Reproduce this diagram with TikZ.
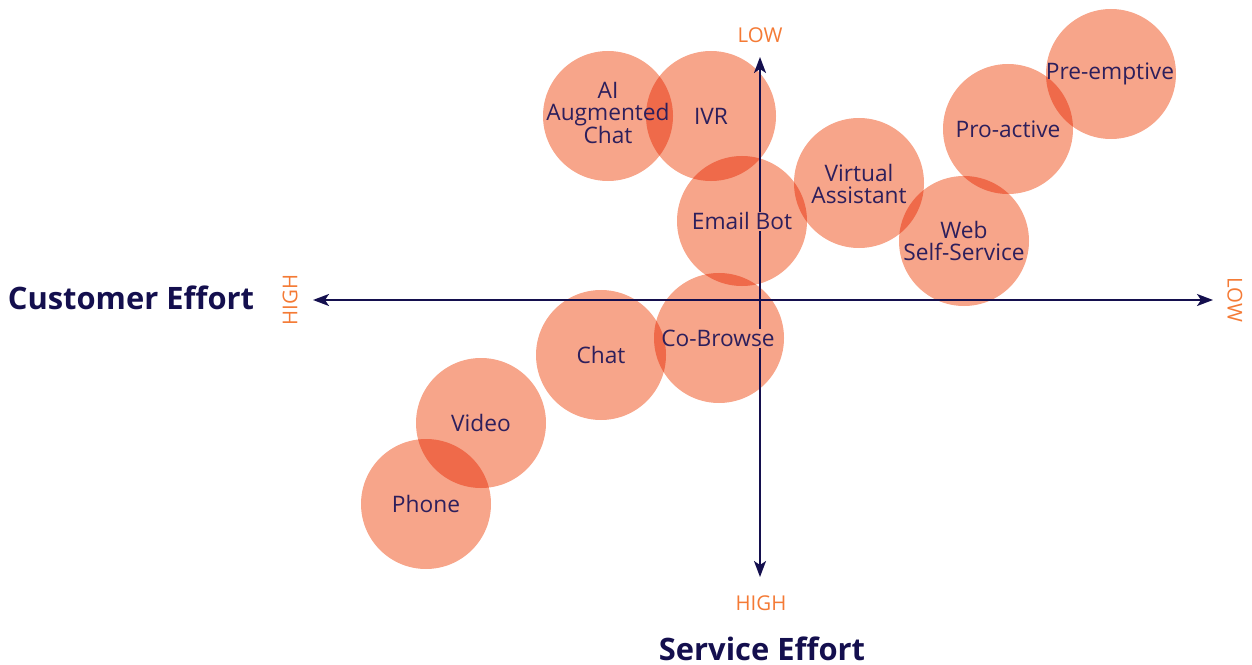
\documentclass[tikz,border=0pt]{standalone}
\usepackage{fontspec}
\setmainfont{Open Sans}
\usetikzlibrary{arrows.meta}
\definecolor{circ}{HTML}{F7A58A}
\definecolor{navy}{HTML}{140F4E}
\definecolor{lbl}{HTML}{2D1F5C}
\definecolor{org}{HTML}{F47A35}
\begin{document}
\begin{tikzpicture}[x=1bp,y=-1bp,
  bub/.style={circle, fill=circ, minimum size=130bp, inner sep=0pt},
  bubtext/.style={text=lbl, align=center, font=\fontsize{22.8}{22}\selectfont},
  axis/.style={draw=navy, line width=2bp, {Stealth[length=16bp,width=12bp,inset=4bp]}-{Stealth[length=16bp,width=12bp,inset=4bp]}},
  endlbl/.style={text=org, font=\fontsize{20.5}{20.5}\selectfont, inner sep=0pt},
  title/.style={text=navy, font=\fontsize{31}{31}\selectfont\bfseries, inner sep=0pt}]
\useasboundingbox (0,0) rectangle (1252,665);
\begin{scope}[blend mode=multiply]
\node[bub] (ai)  at (608,116) {};
\node[bub] (ivr) at (711,116) {};
\node[bub] (eb)  at (742,221) {};
\node[bub] (va)  at (859,183) {};
\node[bub] (pa)  at (1008,129) {};
\node[bub] (pe)  at (1111,74) {};
\node[bub] (web) at (964,241) {};
\node[bub] (chat) at (601,355) {};
\node[bub] (cb)  at (719,338) {};
\node[bub] (vid) at (481,423) {};
\node[bub] (ph)  at (426,504) {};
\end{scope}
% axes
\coordinate (xl) at (313,300);
\coordinate (xr) at (1213,300);
\coordinate (yt) at (760,57);
\coordinate (yb) at (760,577);
\draw[axis] (xl) -- (xr);
\draw[axis] (yt) -- (yb);
% gaps of the vertical axis behind two labels
\fill[circ] ([xshift=-2bp]yt |- 0,212) rectangle ([xshift=2bp]yt |- 0,231);
\fill[circ] ([xshift=-2bp]yt |- 0,329) rectangle ([xshift=2bp]yt |- 0,348);
% labels
\node[bubtext] (tai)  at (608,113) {AI\\Augmented\\Chat};
\node[bubtext] (tivr) at (711,116) {IVR};
\node[bubtext] (teb)  at (742,221) {Email Bot};
\node[bubtext] (tva)  at (859,184) {Virtual\\Assistant};
\node[bubtext] (tpa)  at (1008,129) {Pro-active};
\node[bubtext] (tpe)  at (1110,74) {Pre-emptive};
\node[bubtext] (tweb) at (964,241) {Web\\Self-Service};
\node[bubtext] (tchat) at (601,355) {Chat};
\node[bubtext] (tcb)  at (718,338) {Co-Browse};
\node[bubtext] (tvid) at (481,423) {Video};
\node[bubtext] (tph)  at (426,504) {Phone};
% axis end labels
\node[endlbl] (lowt) at (760,35) {LOW};
\node[endlbl] (highb) at (761,603) {HIGH};
\node[endlbl, rotate=90] (highl) at (290,300) {HIGH};
\node[endlbl, rotate=-90] (lowr) at (1235,300) {LOW};
\node[title] (ce) at (131,298) {Customer Effort};
\node[title] (se) at (762,649) {Service Effort};
\end{tikzpicture}
\end{document}
